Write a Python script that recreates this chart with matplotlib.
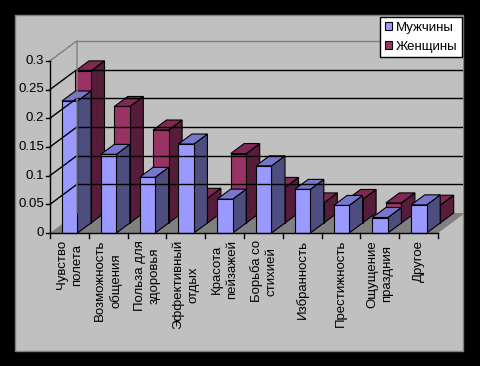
import matplotlib
matplotlib.use('Agg')
import matplotlib.pyplot as plt
from matplotlib.patches import Polygon, Rectangle, Patch

# данные с картинки
categories = ['Чувство\nполета', 'Возможность\nобщения', 'Польза для\nздоровья',
              'Эффективный\nотдых', 'Красота\nпейзажей', 'Борьба со\nстихией',
              'Избранность', 'Престижность', 'Ощущение\nпраздния', 'Другое']
muzhchiny = [0.23, 0.137, 0.097, 0.155, 0.059, 0.117, 0.076, 0.048, 0.027, 0.049]
zhenshchiny = [0.265, 0.203, 0.162, 0.043, 0.121, 0.062, 0.035, 0.041, 0.035, 0.031]
series_names = ['Мужчины', 'Женщины']
y_ticks = [0, 0.05, 0.1, 0.15, 0.2, 0.25, 0.3]
y_tick_labels = ['0', '0.05', '0.1', '0.15', '0.2', '0.25', '0.3']

# цвета в стиле Excel: лицо, верх, бок
colors = {
    'Мужчины': ('#9999FF', '#7777CC', '#4D4D80'),
    'Женщины': ('#993366', '#7F2A55', '#561D3A'),
}

W, H = 481, 366
X0, CAT = 50, 38.8     # пиксель категории 0, пикселей на категорию
Y0, VAL = 233, 574     # пиксель нуля, пикселей на единицу
DX = 27 / CAT          # полная глубина по x
DY = 20 / VAL          # полная глубина по y
BAR_OFF = 12 / CAT
BAR_W = 15.5 / CAT
YMAX = 0.3
N = len(categories)
FS = 9.5
FONT = 'Liberation Sans'


def px(x, y):
    # пиксели -> координаты данных
    return (x - X0) / CAT, (Y0 - y) / VAL


def draw_bar(ax, x, v, z0, z1, cols, clip):
    face, top, side = cols
    kw = dict(edgecolor='black', linewidth=0.8, joinstyle='miter')
    x0, y0 = x + z0 * DX, z0 * DY
    x1, y1 = x + z1 * DX, z1 * DY
    p_side = Polygon([(x0 + BAR_W, y0), (x1 + BAR_W, y1), (x1 + BAR_W, v + y1),
                      (x0 + BAR_W, v + y0)], facecolor=side, **kw)
    p_top = Polygon([(x0, v + y0), (x0 + BAR_W, v + y0), (x1 + BAR_W, v + y1),
                     (x1, v + y1)], facecolor=top, **kw)
    p_face = Rectangle((x0, y0), BAR_W, v, facecolor=face, **kw)
    for p in (p_side, p_top, p_face):
        ax.add_patch(p)
        p.set_clip_path(clip)


def main():
    fig = plt.figure(figsize=(W / 100, H / 100), dpi=100, facecolor='black')
    ax = fig.add_axes([0, 0, 1, 1])
    ax.set_xlim(-X0 / CAT, (W - X0) / CAT)
    ax.set_ylim(-(H - Y0) / VAL, Y0 / VAL)
    ax.axis('off')

    # область диаграммы
    a = px(15, 351)
    b = px(463, 15)
    area = Rectangle(a, b[0] - a[0], b[1] - a[1], facecolor='#C0C0C0',
                     edgecolor='#808080', linewidth=1)
    ax.add_patch(area)

    # задняя стенка, боковая стенка, пол
    back = Polygon([(DX, DY), (N + DX, DY), (N + DX, YMAX + DY), (DX, YMAX + DY)],
                   facecolor='#C0C0C0', edgecolor='none')
    side = Polygon([(0, 0), (DX, DY), (DX, YMAX + DY), (0, YMAX)],
                   facecolor='#C0C0C0', edgecolor='none')
    floor = Polygon([(0, 0), (N, 0), (N + DX, DY), (DX, DY)],
                    facecolor='#808080', edgecolor='none')
    for p in (back, side, floor):
        ax.add_patch(p)
        p.set_clip_path(area)

    # линии сетки
    for t in y_ticks[1:-1]:
        ln, = ax.plot([DX, N + DX], [t + DY, t + DY], color='black', lw=1)
        ln.set_clip_path(area)
        ax.plot([0, DX], [t, t + DY], color='black', lw=1)
    ln, = ax.plot([DX, N + DX], [YMAX + DY, YMAX + DY], color='#808080', lw=1)
    ln.set_clip_path(area)
    ax.plot([0, DX, DX], [YMAX, YMAX + DY, DY], color='#808080', lw=1)

    # столбцы: сначала дальний ряд
    for i, v in enumerate(zhenshchiny):
        draw_bar(ax, i + BAR_OFF, v, 0.5, 1.0, colors['Женщины'], area)
    for i, v in enumerate(muzhchiny):
        draw_bar(ax, i + BAR_OFF, v, 0.0, 0.5, colors['Мужчины'], area)

    # ось Y
    tick_x = 4 / CAT
    ax.plot([0, 0], [0, YMAX], color='black', lw=1)
    for t, lab in zip(y_ticks, y_tick_labels):
        ax.plot([-tick_x, 0], [t, t], color='black', lw=1)
        ax.text(-6 / CAT, t, lab, ha='right', va='center', fontsize=FS,
                family=FONT, color='black')

    # ось X
    tick_y = 5 / VAL
    ax.plot([0, N], [0, 0], color='black', lw=1)
    for i in range(N + 1):
        ax.plot([i, i], [0, -tick_y], color='black', lw=1)
    for i, lab in enumerate(categories):
        ax.text(i + 0.5, -7 / VAL, lab, rotation=90, ha='center', va='top',
                multialignment='center', fontsize=FS, family=FONT,
                linespacing=1.3, color='black')

    # легенда
    handles = [Patch(facecolor=colors[s][0], edgecolor='black', linewidth=0.8)
               for s in series_names]
    leg = fig.legend(handles, series_names, loc='upper right',
                     bbox_to_anchor=(462 / W, 1 - 17 / H), frameon=True,
                     fancybox=False, framealpha=1, edgecolor='black',
                     facecolor='white', prop={'family': FONT, 'size': FS},
                     handlelength=0.55, handleheight=0.55, handletextpad=0.3,
                     borderpad=0.35, labelspacing=0.55, borderaxespad=0)
    leg.get_frame().set_linewidth(1)

    fig.savefig('out.png', dpi=100, facecolor='black')


if __name__ == '__main__':
    main()
